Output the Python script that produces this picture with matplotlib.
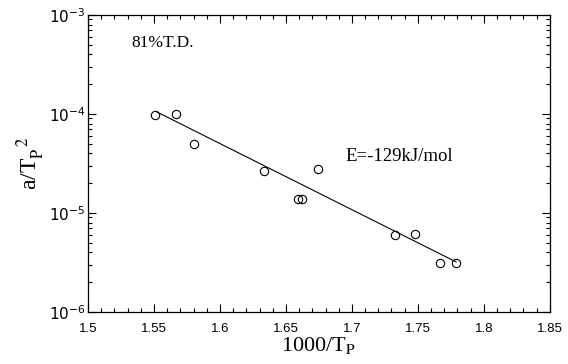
import numpy as np
import matplotlib
matplotlib.use("Agg")
from matplotlib import pyplot as plt
from matplotlib.ticker import MultipleLocator, LogLocator, LogFormatterMathtext, NullFormatter

# measured points
inv_tp = [1.551, 1.567, 1.580, 1.633, 1.659, 1.662, 1.674, 1.733, 1.748, 1.767, 1.779]
a_tp2 = [9.8e-5, 1.0e-4, 5.0e-5, 2.65e-5, 1.38e-5, 1.38e-5, 2.8e-5, 6.0e-6, 6.1e-6, 3.1e-6, 3.1e-6]

# fitted line end points
fit_x = [1.552, 1.779]
fit_y = [1.05e-4, 3.2e-6]

xticks = [1.5, 1.55, 1.6, 1.65, 1.7, 1.75, 1.8, 1.85]
xticklabels = ['1.5', '1.55', '1.6', '1.65', '1.7', '1.75', '1.8', '1.85']

plt.rcParams['mathtext.fontset'] = 'stix'
serif = 'Liberation Serif'
sans = 'Liberation Sans'

fig = plt.figure(figsize=(5.68, 3.64), dpi=100)
ax = fig.add_axes([0.155, 0.143, 0.813, 0.816])

ax.plot(fit_x, fit_y, color='k', lw=0.8)
ax.plot(inv_tp, a_tp2, 'o', ms=6, mfc='none', mec='k', mew=0.8)

ax.set_yscale('log')
ax.set_xlim(1.5, 1.85)
ax.set_ylim(1e-6, 1e-3)

ax.set_xticks(xticks)
ax.set_xticklabels(xticklabels, family=sans, fontsize=9.5)
ax.xaxis.set_minor_locator(MultipleLocator(0.01))
ax.yaxis.set_major_locator(LogLocator(base=10))
ax.yaxis.set_minor_locator(LogLocator(base=10, subs=np.arange(2, 10)))
ax.yaxis.set_major_formatter(LogFormatterMathtext())
ax.yaxis.set_minor_formatter(NullFormatter())

ax.tick_params(which='both', direction='in', top=True, right=True, width=0.8)
ax.tick_params(which='major', length=6)
ax.tick_params(which='minor', length=3)
ax.tick_params(axis='y', which='major', labelsize=11, pad=2)
ax.tick_params(axis='x', pad=8)

for sp in ax.spines.values():
    sp.set_linewidth(0.9)

ax.set_xlabel(r'1000/T$_\mathrm{P}$', family=serif, fontsize=16, labelpad=0)
ax.set_ylabel(r'a/T$_\mathrm{P}^{\ \ \ 2}$', family=serif, fontsize=17, labelpad=1)

ax.text(1.533, 5.2e-4, '81%T.D.', family=serif, fontsize=12.5, va='center')
ax.text(1.695, 3.7e-5, 'E=-129kJ/mol', family=serif, fontsize=13.5, va='center')

fig.savefig('out.png', dpi=100)
